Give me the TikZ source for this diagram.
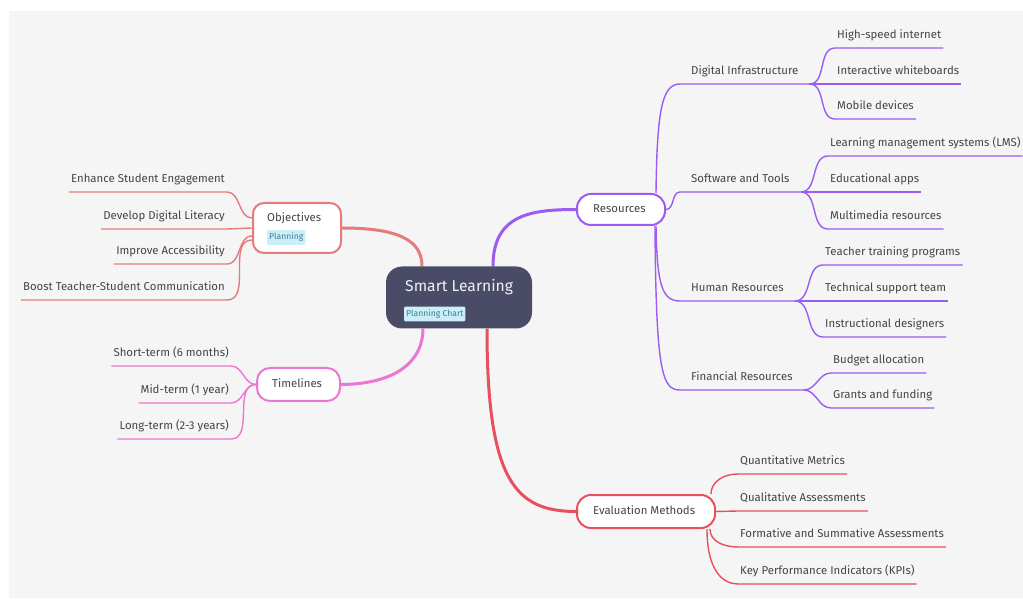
\documentclass[tikz,border=0pt]{standalone}
\usepackage{fontspec}
\setmainfont{Fira Sans}
\definecolor{bgc}{HTML}{F5F5F5}
\definecolor{txt}{HTML}{454545}
\definecolor{objc}{HTML}{E57B7B}
\definecolor{tlc}{HTML}{EC76D3}
\definecolor{resc}{HTML}{9B5CF2}
\definecolor{evc}{HTML}{E8505F}
\definecolor{ctrc}{HTML}{4A4B67}
\definecolor{tagf}{HTML}{CBEEF7}
\definecolor{tagt}{HTML}{3A7F9E}
\pgfdeclarelayer{back}
\pgfdeclarelayer{lines}
\pgfsetlayers{back,lines,main}
\begin{document}
\begin{tikzpicture}[x=1pt,y=-1pt,
  lf/.style={font=\fontsize{11.4}{13}\selectfont},
  leafR/.style={lf, text=txt, anchor=south west, inner xsep=2pt, inner ysep=6pt, text depth=3pt, text height=8pt},
  leafL/.style={leafR, anchor=south east},
  midR/.style={leafR, inner xsep=11pt},
  box/.style={draw, fill=white, line width=2pt, inner sep=0pt},
  boxtxt/.style={lf, text=txt, anchor=west, inner sep=0pt},
  tagst/.style={fill=tagf, text=tagt, font=\fontsize{8.6}{9}\selectfont, inner xsep=2pt, inner ysep=3pt, anchor=west, rounded corners=1pt},
  mainln/.style={line width=3pt},
  brln/.style={line width=1.4pt}
]
\begin{pgfonlayer}{back}
\fill[white] (0,0) rectangle (1023,601);
\fill[bgc] (9,11) rectangle (1023,598);
\end{pgfonlayer}
\useasboundingbox (0,0) rectangle (1023,601);

% central node
\node[fill=ctrc, rounded corners=16pt, minimum width=146pt, minimum height=62pt, inner sep=0pt] (ctr) at (459,297.5) {};
\node[anchor=west, inner sep=0pt, text=white!92!ctrc, font=\fontsize{15.7}{18}\selectfont] (ctitle) at (405,287) {Smart Learning};
\node[tagst] (ctag) at (404,314) {Planning Chart};

% first-level boxes
\node[box, draw=objc, rounded corners=11pt, minimum width=88pt, minimum height=50pt] (obj) at (297,228) {};
\node[boxtxt] (objt) at (267,218) {Objectives};
\node[tagst] (objtag) at (267,237.5) {Planning};

\node[box, draw=tlc, rounded corners=13pt, minimum width=83pt, minimum height=33pt] (tl) at (298.5,384.5) {};
\node[boxtxt] (tlt) at (272,383.5) {Timelines};

\node[box, draw=resc, rounded corners=14pt, minimum width=88pt, minimum height=31pt] (res) at (621,209.5) {};
\node[boxtxt] (rest) at (593,209) {Resources};

\node[box, draw=evc, rounded corners=14pt, minimum width=138pt, minimum height=33pt] (ev) at (646,511.5) {};
\node[boxtxt] (evt) at (593,510.5) {Evaluation Methods};

% Objectives leaves
\node[leafL] (o1) at (227,192) {Enhance Student Engagement};
\node[leafL] (o2) at (227,229) {Develop Digital Literacy};
\node[leafL] (o3) at (227,264) {Improve Accessibility};
\node[leafL] (o4) at (227,300) {Boost Teacher-Student Communication};

% Timelines leaves
\node[leafL] (t1) at (231,366) {Short-term (6 months)};
\node[leafL] (t2) at (231,403) {Mid-term (1 year)};
\node[leafL] (t3) at (231,439) {Long-term (2-3 years)};

% Resources mids
\node[midR] (r1) at (680,84) {Digital Infrastructure};
\node[midR] (r2) at (680,192) {Software and Tools};
\node[midR] (r3) at (680,301) {Human Resources};
\node[midR] (r4) at (680,390) {Financial Resources};

% grandchildren
\node[leafR] (g11) at (835,48) {High-speed internet};
\node[leafR] (g12) at (835,84) {Interactive whiteboards};
\node[leafR] (g13) at (835,119) {Mobile devices};
\node[leafR] (g21) at (828,156) {Learning management systems (LMS)};
\node[leafR] (g22) at (828,192) {Educational apps};
\node[leafR] (g23) at (828,229) {Multimedia resources};
\node[leafR] (g31) at (823,265) {Teacher training programs};
\node[leafR] (g32) at (823,301) {Technical support team};
\node[leafR] (g33) at (823,337) {Instructional designers};
\node[leafR] (g41) at (831,373) {Budget allocation};
\node[leafR] (g42) at (831,408) {Grants and funding};

% Evaluation leaves
\node[leafR] (e1) at (738,474) {Quantitative Metrics};
\node[leafR] (e2) at (738,511) {Qualitative Assessments};
\node[leafR] (e3) at (738,547) {Formative and Summative Assessments};
\node[leafR] (e4) at (738,584) {Key Performance Indicators (KPIs)};

\begin{pgfonlayer}{lines}
% main branches
\draw[mainln, objc] (obj.east) .. controls (398,228) and (422,240) .. ([xshift=-37pt]ctr.north);
\draw[mainln, tlc] (tl.east) .. controls (398,384) and (423,360) .. ([xshift=-36pt]ctr.south);
\draw[mainln, resc] ([xshift=34pt]ctr.north) .. controls (493,215) and (530,209.5) .. (res.west);
\draw[mainln, evc] ([xshift=28pt]ctr.south) .. controls (487,480) and (515,511.5) .. (ev.west);

% objectives
\draw[brln, objc] ([yshift=10pt]obj.west) to[out=180,in=0] (o1.south east) -- (o1.south west);
\draw[brln, objc] (obj.west) -- (o2.south east) -- (o2.south west);
\draw[brln, objc] ([yshift=-8pt]obj.west) to[out=180,in=0] (o3.south east) -- (o3.south west);
\draw[brln, objc] ([yshift=-12pt]obj.west) to[out=180,in=0] (o4.south east) -- (o4.south west);

% timelines
\draw[brln, tlc] (tl.west) to[out=180,in=0] (t1.south east) -- (t1.south west);
\draw[brln, tlc] (tl.west) to[out=180,in=0] (t2.south east) -- (t2.south west);
\draw[brln, tlc] (tl.west) to[out=180,in=0] (t3.south east) -- (t3.south west);

% resources mids
\draw[brln, resc] ([xshift=-10pt]res.north east) .. controls (657,110) and (662,84) .. (r1.south west) -- (r1.south east);
\draw[brln, resc] (res.east) to[out=0,in=180] (r2.south west) -- (r2.south east);
\draw[brln, resc] ([xshift=-10pt]res.south east) .. controls (657,285) and (662,301) .. (r3.south west) -- (r3.south east);
\draw[brln, resc] ([xshift=-11pt]res.south east) .. controls (656,372) and (662,390) .. (r4.south west) -- (r4.south east);

% grandchildren
\foreach \p/\c in {r1/g11,r1/g12,r1/g13,r2/g21,r2/g22,r2/g23,r3/g31,r3/g32,r3/g33,r4/g41,r4/g42}
  \draw[brln, resc] (\p.south east) to[out=0,in=180] (\c.south west) -- (\c.south east);

% evaluation
\draw[brln, evc] ([xshift=-5pt]ev.north east) .. controls +(0,-12) and +(-15,0) .. (e1.south west) -- (e1.south east);
\draw[brln, evc] (ev.east) -- (e2.south west) -- (e2.south east);
\draw[brln, evc] ([xshift=-6pt]ev.south east) .. controls +(0,12) and +(-15,0) .. (e3.south west) -- (e3.south east);
\draw[brln, evc] ([xshift=-9pt]ev.south east) .. controls +(0,42) and +(-15,0) .. (e4.south west) -- (e4.south east);
\end{pgfonlayer}
\end{tikzpicture}
\end{document}
